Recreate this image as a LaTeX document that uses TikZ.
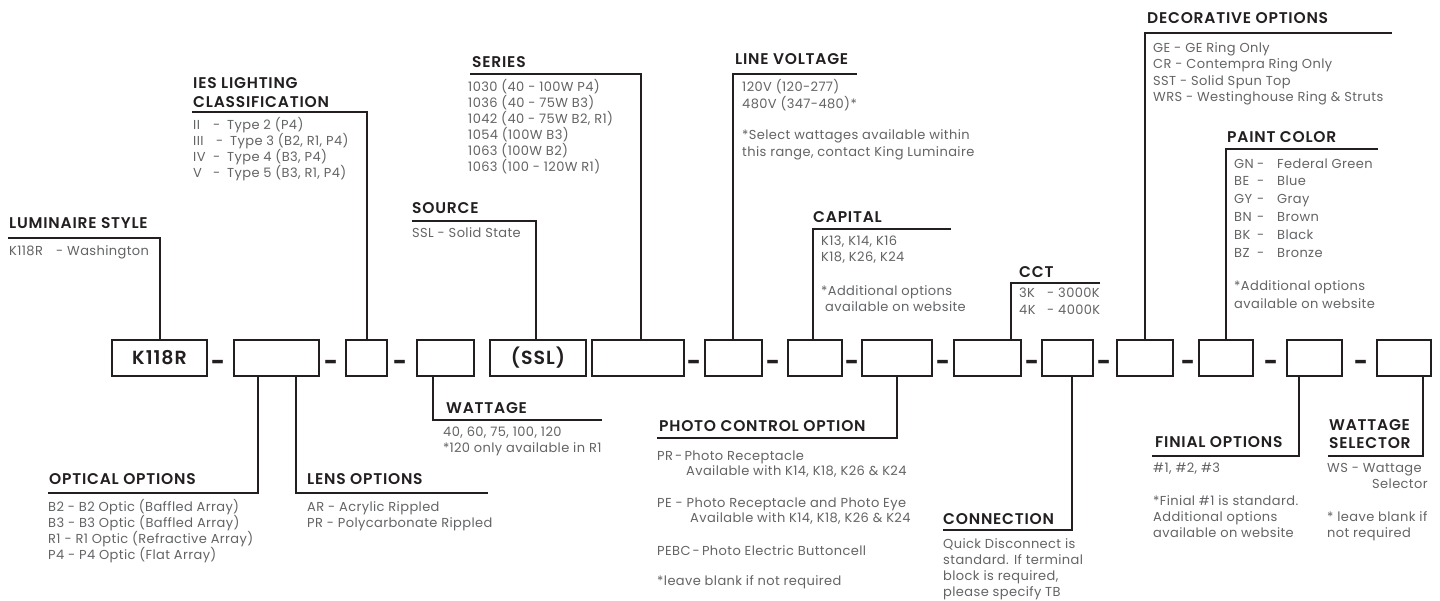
\documentclass[tikz,border=0pt]{standalone}
\usepackage{fontspec}
\setmainfont{Poppins}
\newfontfamily\bodyf{Poppins}[LetterSpace=3]
\newfontfamily\ttlf{Poppins SemiBold}[LetterSpace=5]
\definecolor{ink}{HTML}{231F20}
\definecolor{bodyc}{HTML}{636466}
\newcommand\blk[2]{\parbox[t]{300pt}{\raggedright\setlength{\baselineskip}{#1pt}#2}}
\newcommand\cl[2]{\makebox[#1pt][l]{#2}}
\tikzset{
 box/.style={draw=ink, line width=1.1pt, inner sep=0pt, minimum height=36pt, text=ink,
   font=\ttlf\fontsize{19}{20}\selectfont},
 conn/.style={draw=ink, line width=1.3pt},
 ttl/.style={anchor=base west, inner sep=0pt, text=ink, font=\ttlf\fontsize{15.5}{19}\selectfont},
 txt/.style={anchor=base west, inner sep=0pt, text=bodyc, font=\bodyf\fontsize{13}{16}\selectfont},
 dsh/.style={anchor=base, inner sep=0pt, text=ink, font=\fontsize{24}{24}\selectfont\bfseries},
}
\newcommand\bx[4]{\node[box, minimum width={(#3-#2)*1pt}] (#1) at ({(#2+#3)/2},358) {#4};}
\begin{document}
\begin{tikzpicture}[x=1pt,y=-1pt]
\useasboundingbox[fill=white] (0,0) rectangle (1440,600);
% ---------- boxes ----------
\bx{b1}{112}{207}{K118R}
\bx{b2}{234}{319}{}
\bx{b3}{346}{387}{}
\bx{b4}{417}{474}{}
\bx{b5}{490}{586}{(SSL)}
\bx{b6}{592}{684}{}
\bx{b7}{705}{762}{}
\bx{b8}{788}{842}{}
\bx{b9}{862}{932}{}
\bx{b10}{954}{1021}{}
\bx{b11}{1042}{1093}{}
\bx{b12}{1117}{1173}{}
\bx{b13}{1199}{1253}{}
\bx{b14}{1287}{1342}{}
\bx{b15}{1377}{1431}{}
% ---------- dashes ----------
\foreach \x [count=\i] in {218,331,400,694,773,852,943,1032,1104,1188,1271,1361}
  \node[dsh] (d\i) at (\x,370) {-};
% ---------- LUMINAIRE STYLE ----------
\node[ttl] (tLum) at (9,228) {LUMINAIRE STYLE};
\node[txt] (xLum) at (9,255) {\cl{47}{K118R}- Washington};
\coordinate (uLum) at (8,238); \coordinate (cLum) at (160,238);
\draw[conn] (uLum) -- (cLum) -- (cLum |- b1.north);
% ---------- IES ----------
\node[ttl] (tIes) at (193,88) {\blk{19}{IES LIGHTING\\CLASSIFICATION}};
\node[txt] (xIes) at (193,129) {\blk{16}{\cl{20}{II}\cl{14}{-}Type 2 (P4)\\
 \cl{23}{III}\cl{14}{-}Type 3 (B2, R1, P4)\\
 \cl{20}{IV}\cl{14}{-}Type 4 (B3, P4)\\
 \cl{20}{V}\cl{14}{-}Type 5 (B3, R1, P4)}};
\coordinate (uIes) at (192,112); \coordinate (cIes) at (367,112);
\draw[conn] (uIes) -- (cIes) -- (cIes |- b3.north);
% ---------- SOURCE ----------
\node[ttl] (tSrc) at (412,213) {SOURCE};
\node[txt] (xSrc) at (412,237) {SSL - Solid State};
\coordinate (uSrc) at (412,221); \coordinate (cSrc) at (536,221);
\draw[conn] (uSrc) -- (cSrc) -- (cSrc |- b5.north);
% ---------- SERIES ----------
\node[ttl] (tSer) at (472,67) {SERIES};
\node[txt] (xSer) at (468,91) {\blk{16}{1030 (40 - 100W P4)\\1036 (40 - 75W B3)\\1042 (40 - 75W B2, R1)\\1054 (100W B3)\\1063 (100W B2)\\1063 (100 - 120W R1)}};
\coordinate (uSer) at (470,74); \coordinate (cSer) at (641,74);
\draw[conn] (uSer) -- (cSer) -- (cSer |- b6.north);
% ---------- LINE VOLTAGE ----------
\node[ttl] (tLv) at (735,64) {LINE VOLTAGE};
\node[txt] (xLv) at (742,91) {\blk{17}{120V (120-277)\\480V (347-480)*\\[14pt]*Select wattages available within\\this range, contact King Luminaire}};
\coordinate (uLv) at (857,74); \coordinate (cLv) at (733,74);
\draw[conn] (uLv) -- (cLv) -- (cLv |- b7.north);
% ---------- CAPITAL ----------
\node[ttl] (tCap) at (813,222) {CAPITAL};
\node[txt] (xCap) at (821,245) {\blk{16}{K13, K14, K16\\K18, K26, K24\\[18pt]*Additional options\\\hspace*{4pt}available on website}};
\coordinate (uCap) at (951,229); \coordinate (cCap) at (813,229);
\draw[conn] (uCap) -- (cCap) -- (cCap |- b8.north);
% ---------- CCT ----------
\node[ttl] (tCct) at (1019,277) {CCT};
\node[txt] (xCct) at (1019,297) {\blk{17}{\cl{28}{3K}- 3000K\\\cl{28}{4K}- 4000K}};
\coordinate (uCct) at (1100,283); \coordinate (cCct) at (1011,283);
\draw[conn] (uCct) -- (cCct) -- (cCct |- b10.north);
% ---------- DECORATIVE ----------
\node[ttl] (tDec) at (1147,23) {DECORATIVE OPTIONS};
\node[txt] (xDec) at (1153,52) {\blk{16.5}{GE - GE Ring Only\\CR - Contempra Ring Only\\SST - Solid Spun Top\\WRS - Westinghouse Ring \& Struts}};
\coordinate (uDec) at (1392,33); \coordinate (cDec) at (1145,33);
\draw[conn] (uDec) -- (cDec) -- (cDec |- b12.north);
% ---------- PAINT ----------
\node[ttl] (tPai) at (1227,142) {PAINT COLOR};
\node[txt] (xPai) at (1234,168) {\blk{17.8}{\cl{23}{GN}\cl{20}{-}Federal Green\\
 \cl{23}{BE}\cl{20}{-}Blue\\\cl{23}{GY}\cl{20}{-}Gray\\\cl{23}{BN}\cl{20}{-}Brown\\
 \cl{23}{BK}\cl{20}{-}Black\\\cl{23}{BZ}\cl{20}{-}Bronze\\[16pt]
 *Additional options\\available on website}};
\coordinate (uPai) at (1378,149); \coordinate (cPai) at (1226,149);
\draw[conn] (uPai) -- (cPai) -- (cPai |- b13.north);
% ---------- OPTICAL ----------
\node[ttl] (tOpt) at (49,484) {OPTICAL OPTIONS};
\node[txt] (xOpt) at (48,511) {\blk{16}{B2 - B2 Optic (Baffled Array)\\B3 - B3 Optic (Baffled Array)\\R1 - R1 Optic (Refractive Array)\\P4 - P4 Optic (Flat Array)}};
\coordinate (uOpt) at (48,493); \coordinate (cOpt) at (258,493);
\draw[conn] (uOpt) -- (cOpt) -- (cOpt |- b2.south);
% ---------- LENS ----------
\node[ttl] (tLen) at (307,484) {LENS OPTIONS};
\node[txt] (xLen) at (307,511) {\blk{16}{AR - Acrylic Rippled\\PR - Polycarbonate Rippled}};
\coordinate (uLen) at (488,493); \coordinate (cLen) at (296,493);
\draw[conn] (uLen) -- (cLen) -- (cLen |- b2.south);
% ---------- WATTAGE ----------
\node[ttl] (tWat) at (446,413) {WATTAGE};
\node[txt] (xWat) at (443,436) {\blk{16}{40, 60, 75, 100, 120\\\mbox{*}120 only available in R1}};
\coordinate (uWat) at (602,420); \coordinate (cWat) at (433,420);
\draw[conn] (uWat) -- (cWat) -- (cWat |- b4.south);
% ---------- PHOTO CONTROL ----------
\node[ttl] (tPho) at (659,431) {PHOTO CONTROL OPTION};
\node[txt] (xPho) at (657,460) {\blk{15.5}{PR\,-\,Photo Receptacle\\\hspace*{29pt}Available with K14, K18, K26 \& K24\\[16pt]
 PE - Photo Receptacle and Photo Eye\\\hspace*{33pt}Available with K14, K18, K26 \& K24\\[17pt]
 PEBC\,-\,Photo Electric Buttoncell\\[15pt]
 *leave blank if not required}};
\coordinate (uPho) at (657,438); \coordinate (cPho) at (897,438);
\draw[conn] (uPho) -- (cPho) -- (cPho |- b9.south);
% ---------- CONNECTION ----------
\node[ttl] (tCon) at (943,524) {CONNECTION};
\node[txt] (xCon) at (943,548) {\blk{16}{Quick Disconnect is\\standard. If terminal\\block is required,\\please specify TB}};
\coordinate (uCon) at (943,530); \coordinate (cCon) at (1072,530);
\draw[conn] (uCon) -- (cCon) -- (cCon |- b11.south);
% ---------- FINIAL ----------
\node[ttl] (tFin) at (1155,447) {FINIAL OPTIONS};
\node[txt] (xFin) at (1153,472) {\blk{16}{\#1, \#2, \#3\\[17pt]*Finial \#1 is standard.\\Additional options\\available on website}};
\coordinate (uFin) at (1152,456); \coordinate (cFin) at (1299,456);
\draw[conn] (uFin) -- (cFin) -- (cFin |- b14.south);
% ---------- WATTAGE SELECTOR ----------
\node[ttl] (tWs) at (1329,430) {\blk{18}{WATTAGE\\SELECTOR}};
\node[txt] (xWs) at (1327,472) {\blk{16}{WS - Wattage\\\hspace*{45pt}Selector\\[17pt]* leave blank if\\not required}};
\coordinate (uWs) at (1328,456); \coordinate (cWs) at (1423,456);
\draw[conn] (uWs) -- (cWs) -- (cWs |- b15.south);
\end{tikzpicture}
\end{document}
